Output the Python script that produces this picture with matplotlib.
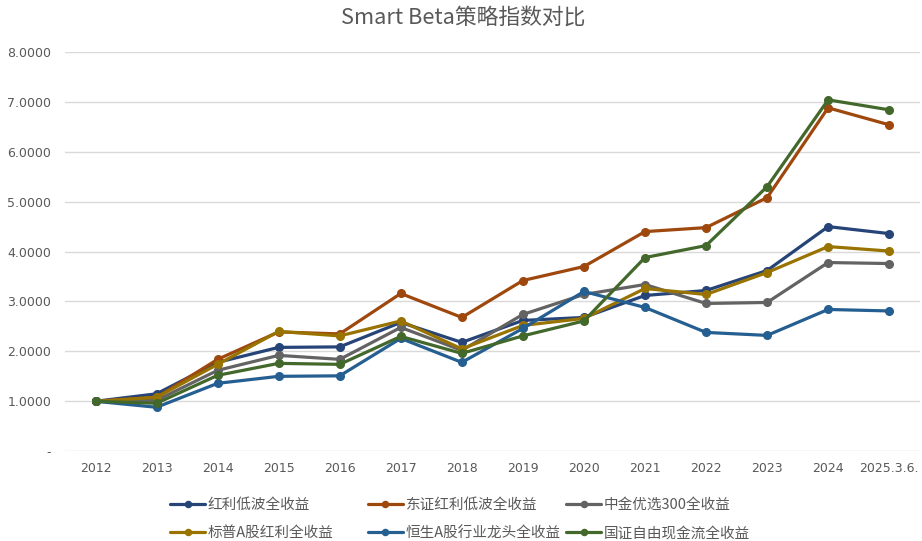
import matplotlib.pyplot as plt
from matplotlib.ticker import FuncFormatter

plt.rcParams['font.family'] = ['Noto Sans CJK SC', 'DejaVu Sans']
plt.rcParams['axes.unicode_minus'] = False

# 数据
years = ['2012', '2013', '2014', '2015', '2016', '2017', '2018', '2019',
         '2020', '2021', '2022', '2023', '2024', '2025.3.6.']
hongli_dibo = [1.00, 1.15, 1.78, 2.08, 2.09, 2.58, 2.18, 2.62, 2.68, 3.12, 3.22, 3.62, 4.50, 4.36]
dongzheng_dibo = [1.00, 1.08, 1.84, 2.39, 2.35, 3.16, 2.68, 3.42, 3.70, 4.40, 4.48, 5.08, 6.88, 6.54]
zhongjin_300 = [1.00, 1.02, 1.62, 1.92, 1.84, 2.48, 2.02, 2.74, 3.14, 3.34, 2.96, 2.98, 3.78, 3.76]
biaopu_a = [1.00, 1.08, 1.74, 2.40, 2.31, 2.61, 2.05, 2.52, 2.66, 3.26, 3.14, 3.58, 4.10, 4.01]
hengsheng_a = [1.00, 0.88, 1.36, 1.50, 1.51, 2.26, 1.78, 2.46, 3.20, 2.88, 2.38, 2.32, 2.84, 2.81]
guozheng_xjl = [1.00, 0.96, 1.52, 1.76, 1.74, 2.30, 1.96, 2.31, 2.61, 3.88, 4.12, 5.30, 7.04, 6.84]

series = [
    ('红利低波全收益', hongli_dibo, '#264478'),
    ('东证红利低波全收益', dongzheng_dibo, '#9E480E'),
    ('中金优选300全收益', zhongjin_300, '#636363'),
    ('标普A股红利全收益', biaopu_a, '#997300'),
    ('恒生A股行业龙头全收益', hengsheng_a, '#255E91'),
    ('国证自由现金流全收益', guozheng_xjl, '#43682B'),
]

fig = plt.figure(figsize=(9.22, 5.41), dpi=100)
ax = fig.add_axes([0.0705, 0.166, 0.927, 0.738])

x = list(range(len(years)))
handles = []
for name, vals, color in series:
    h, = ax.plot(x, vals, color=color, linewidth=2.3, marker='o', markersize=5.5,
                 label=name, solid_capstyle='round', solid_joinstyle='round')
    handles.append(h)

ax.set_xlim(-0.5, len(years) - 0.5)
ax.set_ylim(0, 8)
ax.set_yticks(range(0, 9))
ax.yaxis.set_major_formatter(FuncFormatter(lambda v, p: '-' if v == 0 else f'{v:.4f}'))
ax.set_xticks(x)
ax.set_xticklabels(years)
ax.tick_params(axis='both', length=0, colors='#595959', labelsize=9)
ax.tick_params(axis='y', pad=10)
ax.tick_params(axis='x', pad=8)
for lab in ax.get_yticklabels():
    lab.set_family('DejaVu Sans')
    lab.set_fontsize(9)
for lab in ax.get_xticklabels():
    lab.set_family('DejaVu Sans')
ax.grid(axis='y', color='#D9D9D9', linewidth=1)
ax.set_axisbelow(True)
for s in ax.spines.values():
    s.set_visible(False)

fig.text(0.502, 0.968, 'Smart Beta策略指数对比', ha='center', va='center',
         fontsize=15.7, color='#595959')

# 图例：三列，每列两项，按行排列
col_x = [0.1844, 0.399, 0.614]
for c in range(3):
    idx = [c, c + 3]
    fig.legend([handles[i] for i in idx], [series[i][0] for i in idx],
               loc='upper left', bbox_to_anchor=(col_x[c], 0.080),
               frameon=False, fontsize=10.5, labelcolor='#595959',
               handlelength=2.4, handletextpad=0.2, borderpad=0,
               borderaxespad=0, labelspacing=1.0, markerscale=0.8)

plt.savefig('out.png', dpi=100)
